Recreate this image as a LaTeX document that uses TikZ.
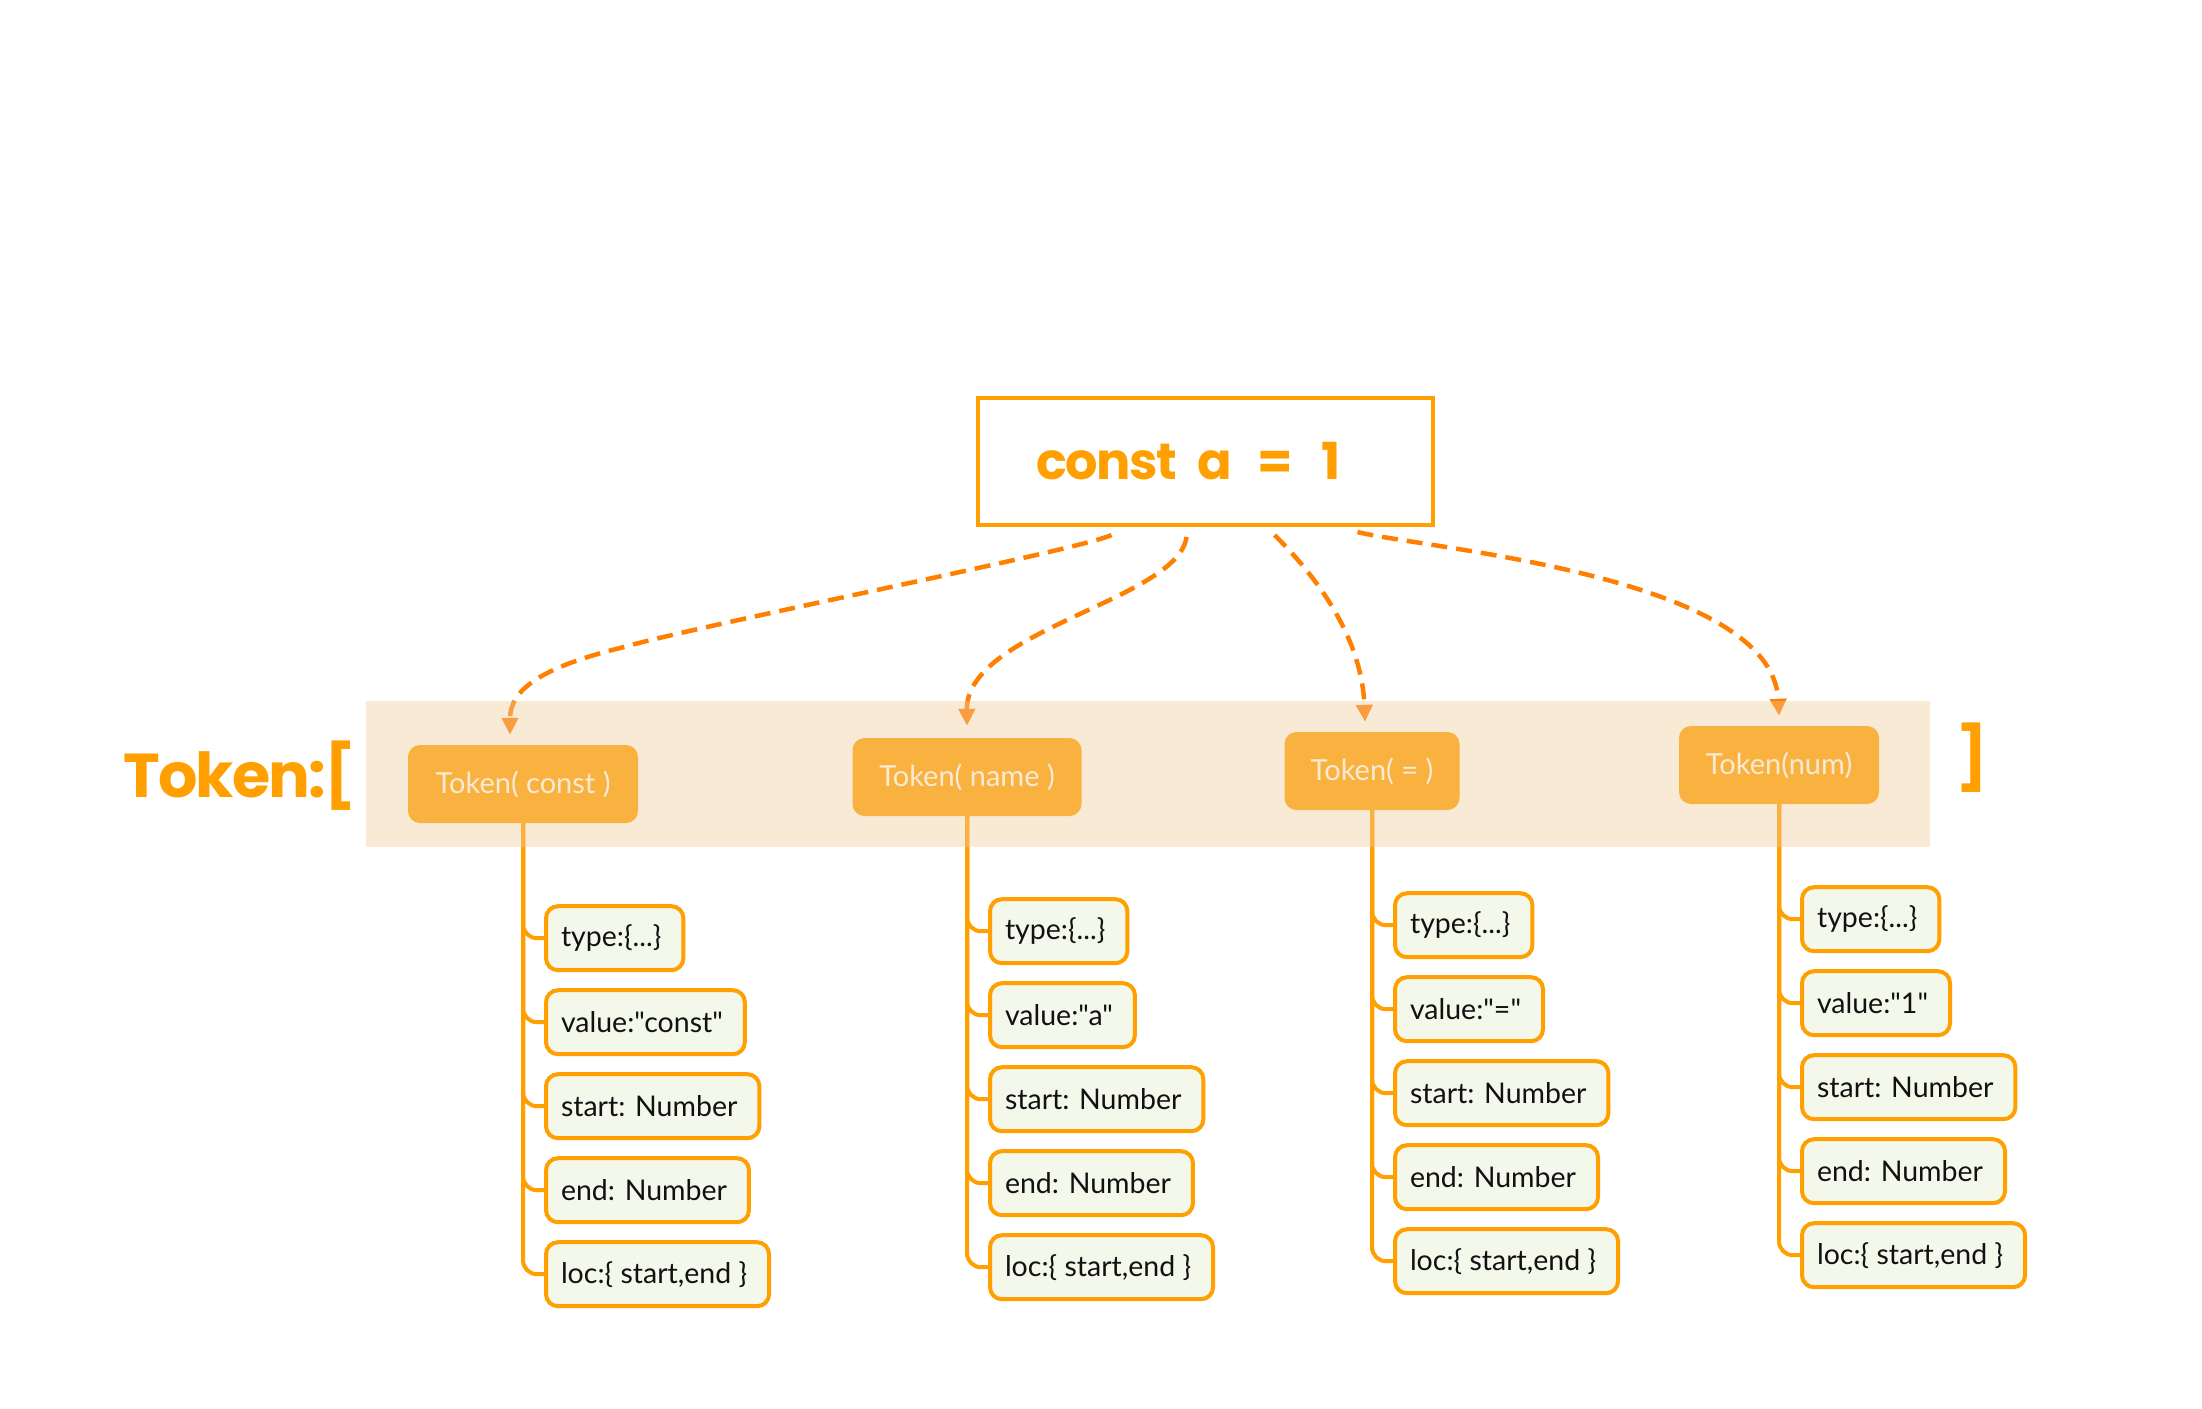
\documentclass[tikz,border=0pt]{standalone}
\usepackage{fontspec}
\newfontfamily\lato{Lato}
\newfontfamily\popb{Poppins}[LetterSpace=-3]
\usetikzlibrary{arrows.meta,calc}
\definecolor{org}{HTML}{FFA000}
\definecolor{dashc}{HTML}{FF7F00}
\definecolor{bandc}{RGB}{241,204,156}
\definecolor{itemfill}{HTML}{F3F8EB}
\definecolor{txt}{HTML}{111111}
\begin{document}
\begin{tikzpicture}[x=1pt,y=-1pt,
  tok/.style={fill=org, rounded corners=12pt, minimum height=78pt, text=white,
    font=\lato\fontsize{29}{31}\selectfont, inner xsep=24pt},
  item/.style={draw=org, line width=4pt, fill=itemfill, rounded corners=12pt,
    minimum height=64pt, inner xsep=15pt, font=\lato\fontsize{28.5}{31}\selectfont,
    text=txt, anchor=west, execute at end node={\hspace{7pt}}},
  conn/.style={draw=org, line width=4pt, rounded corners=14pt},
  arr/.style={draw=dashc, line width=4.5pt, dash pattern=on 16pt off 9pt,
    -{Triangle[width=16pt,length=17pt]}},
  big/.style={text=org, inner sep=0pt, font=\popb\bfseries\fontsize{62}{62}\selectfont}]
\useasboundingbox (0,0) rectangle (2202,1408);
\fill[white] (0,0) rectangle (2202,1408);

% main box
\node[draw=org, line width=4pt, minimum height=127pt, text width=339pt,
  inner xsep=58pt, align=left, anchor=north west, text=org,
  font=\popb\bfseries\fontsize{51}{55}\selectfont] (main) at (976,396)
  {const\hspace{4pt} a\hspace{8pt} =\hspace{12pt} 1};

% labels
\node[big, anchor=base west] (lbl) at (123,797) {Token:[};
\node[big, anchor=base west] (rb) at (1956,779) {]};

% tokens
\node[tok, minimum width=230pt] (tc) at (523,784) {Token( const )};
\node[tok, minimum width=229pt] (tn) at (967,777) {Token( name )};
\node[tok, minimum width=175pt] (te) at (1372,771) {Token( = )};
\node[tok, minimum width=200pt] (tm) at (1779,765) {Token(num)};

% fields
\foreach \t/\v in {tc/{"const"}, tn/{"a"}, te/{"="}, tm/{"1"}} {
  \node[item] (\t1) at ($(\t.south)+(21,115)$) {type:\{...\}};
  \node[item] (\t2) at ($(\t.south)+(21,199)$) {value:\v};
  \node[item] (\t3) at ($(\t.south)+(21,283)$) {start: Number};
  \node[item] (\t4) at ($(\t.south)+(21,367)$) {end: Number};
  \node[item] (\t5) at ($(\t.south)+(21,451)$) {loc:\{ start,end \}};
  \foreach \k in {1,...,5} \draw[conn] (\t.south) |- (\t\k.west);
}

% dashed arrows
\draw[arr] ([xshift=-94pt,yshift=-8pt]main.south)
  .. controls (1080,550) and (700,625) .. (620,648)
  .. controls (540,668) and (510,690) .. ([xshift=-13pt,yshift=10pt]tc.north);
\draw[arr] ([xshift=-19pt,yshift=-10pt]main.south)
  .. controls (1178,600) and (966,630) .. ([yshift=12pt]tn.north);
\draw[arr] ([xshift=69pt,yshift=-8pt]main.south)
  .. controls (1320,580) and (1362,640) .. ([xshift=-7pt,yshift=10pt]te.north);
\draw[arr] ([xshift=152pt,yshift=-5pt]main.south)
  .. controls (1420,548) and (1772,575) .. ([yshift=10pt]tm.north);

% band overlay
\fill[bandc, opacity=0.41] (366,701) rectangle (1930,847);
\end{tikzpicture}
\end{document}
